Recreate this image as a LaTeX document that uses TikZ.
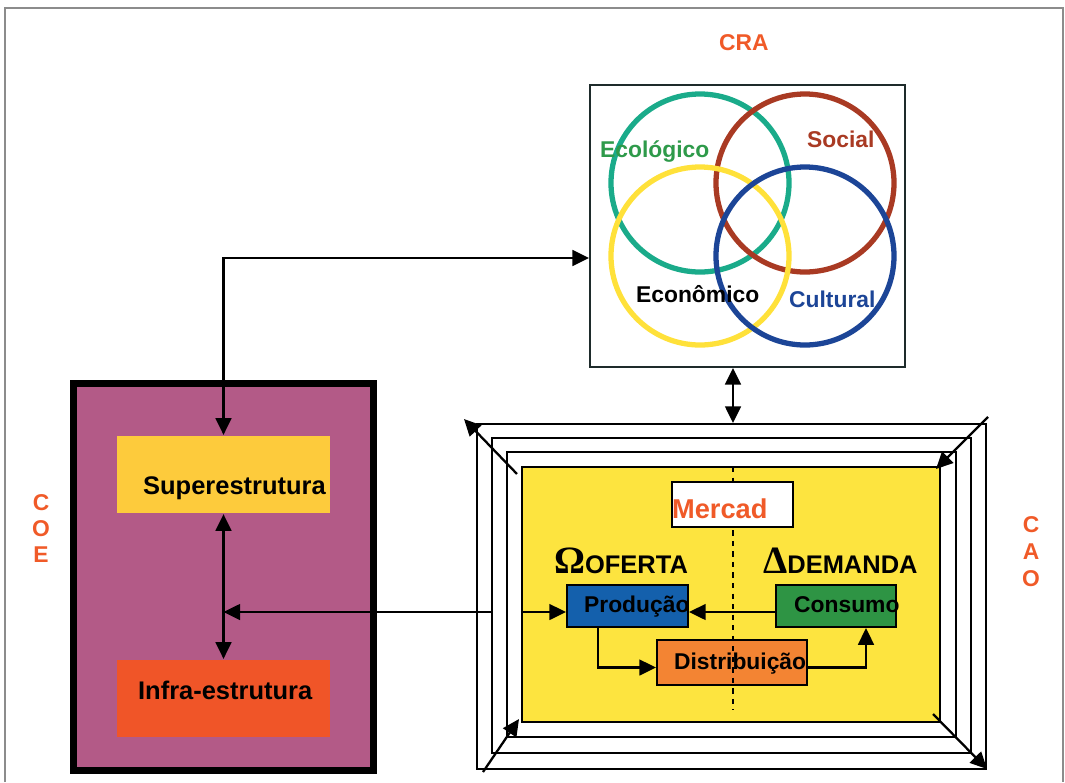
\documentclass[tikz,border=0pt]{standalone}
\usepackage{fontspec}
\setmainfont{Liberation Sans}
\newfontfamily\symbfont{Liberation Serif}
\usetikzlibrary{arrows.meta}

\definecolor{labelred}{HTML}{F05A28}
\definecolor{framegray}{HTML}{8C8C8C}
\definecolor{crablack}{HTML}{1E2B2B}
\definecolor{coepurple}{HTML}{B35A87}
\definecolor{superyellow}{HTML}{FDCB3C}
\definecolor{infraorange}{HTML}{F05528}
\definecolor{caoyellow}{HTML}{FDE43F}
\definecolor{prodblue}{HTML}{1460AC}
\definecolor{consgreen}{HTML}{2E9444}
\definecolor{distorange}{HTML}{F38433}
\definecolor{ecogreen}{HTML}{1AAB8A}
\definecolor{ecotext}{HTML}{2E9A4A}
\definecolor{socred}{HTML}{A93A23}
\definecolor{econyellow}{HTML}{FFE13A}
\definecolor{cultblue}{HTML}{1C4597}

\tikzset{
  box/.style={draw=black,line width=1.2pt,inner sep=0pt},
  txt/.style={inner sep=0pt,font=\bfseries\fontsize{13}{15}\selectfont},
  bigtxt/.style={inner sep=0pt,font=\bfseries\fontsize{14.5}{17}\selectfont},
  ring/.style={line width=3pt},
}

\begin{document}
\begin{tikzpicture}[x=0.02cm,y=-0.02cm,line width=1.3pt,>={Triangle[length=9.5pt,width=9pt]}]
\useasboundingbox (0,0) rectangle (1065,782);
% page frame
\draw[framegray,line width=1pt] (5,782) -- (5,8) -- (1063,8) -- (1063,782);

% COE
\node[draw=black,line width=4pt,fill=coepurple,minimum width=6cm,minimum height=7.74cm,inner sep=0pt] (coe) at (223.5,577) {};
\node[fill=superyellow,minimum width=4.26cm,minimum height=1.54cm,inner sep=0pt] (super) at (223.5,474.5) {};
\node[bigtxt,anchor=base west] (supertext) at (142,494) {Superestrutura};
\node[fill=infraorange,minimum width=4.26cm,minimum height=1.54cm,inner sep=0pt] (infra) at (223.5,698.5) {};
\node[bigtxt,anchor=base west] (infratext) at (137,699) {Infra-estrutura};
\foreach \l [count=\i] in {C,O,E}
  \node[txt,labelred,anchor=base] (coe\i) at (41,484+26*\i) {\l};

% CRA
\node[txt,labelred,anchor=base west] (cratext) at (718,50) {CRA};
\node[draw=crablack,line width=1.1pt,minimum width=6.3cm,minimum height=5.64cm,inner sep=0pt] (cra) at (747.5,226) {};
\draw[ring,ecogreen] (700,183) circle[radius=89];
\draw[ring,socred] (805,183) circle[radius=89];
\draw[ring,econyellow] (700,256) circle[radius=89];
\draw[ring,cultblue] (805,256) circle[radius=89];
\node[txt,ecotext,anchor=base west] (eco) at (599,157) {Ecológico};
\node[txt,socred,anchor=base west] (soc) at (806,147) {Social};
\node[txt,anchor=base west] (econ) at (635,302) {Econômico};
\node[txt,cultblue,anchor=base west] (cult) at (788,307) {Cultural};

% CAO
\node[box,minimum width=10.18cm,minimum height=6.9cm] (cao) at (731.5,596.5) {};
\foreach \i in {1,2}
  \draw[line width=1.2pt] (477+15*\i,424+14*\i) rectangle (986-15*\i,769-16*\i);
\node[box,fill=caoyellow,minimum width=8.36cm,minimum height=5.1cm] (market) at (731,594.5) {};
\foreach \l [count=\i] in {C,A,O}
  \node[txt,labelred,anchor=base] (cao\i) at (1031,505+27*\i) {\l};

\node[box,fill=distorange,minimum width=3cm,minimum height=0.9cm] (dist) at (732,662.5) {};
\coordinate (dashtop) at (733,467);
\coordinate (dashbot) at (733,710);
\draw[dashed,line width=0.8pt] (dashtop) -- (dashbot);
\node[box,fill=white,minimum width=2.42cm,minimum height=0.9cm] (mercad) at (732.5,504.5) {};
\node[anchor=base west,inner sep=0pt,labelred,font=\bfseries\fontsize{15.5}{18}\selectfont] (mercadtext) at (671,518) {Mercad};

\node[bigtxt,anchor=base west] (oferta) at (553,573) {{\symbfont\fontsize{22}{24}\selectfont Ω}OFERTA};
\node[bigtxt,anchor=base west] (demanda) at (762,573) {{\symbfont\fontsize{22}{24}\selectfont Δ}DEMANDA};

\node[box,fill=prodblue,minimum width=2.42cm,minimum height=0.84cm] (prod) at (627.5,606) {};
\node[box,fill=consgreen,minimum width=2.4cm,minimum height=0.84cm] (cons) at (836,606) {};
\node[txt,anchor=base west] (prodtext) at (583,612) {Produção};
\node[txt,anchor=base west] (constext) at (793,612) {Consumo};
\node[txt,anchor=base west] (disttext) at (673,669) {Distribuição};

% connectors inside the market
\draw[->] ([yshift=-0.12cm]cons.west) -- ([yshift=-0.12cm]prod.east);
\draw[->] ([yshift=-0.12cm]prod.west -| market.west) -- ([yshift=-0.12cm]prod.west);
\draw[->] ([xshift=-0.59cm]prod.south) |- ([yshift=-0.1cm]dist.west);
\draw[->] ([yshift=-0.1cm]dist.east) -| ([xshift=0.6cm]cons.south);

% connectors between the blocks
\coordinate (bend) at (222,258);
\coordinate (caoleft) at (492,612);
\draw[<->] (super.south) -- (infra.north);
\draw[<->] (super.north) -- (super.north |- bend) -- (bend -| cra.west);
\draw[->] (caoleft) -- (caoleft -| super.south);
\draw[<->] (cra.south -| dashtop) -- (cao.north -| dashtop);

% corner arrows
\coordinate (tl) at (464,419);
\coordinate (tr) at (988,417);
\coordinate (bl) at (483,772);
\coordinate (br) at (987,769);
\draw[->] ([shift={(-4,8)}]market.north west) -- (tl);
\draw[->] (tr) -- ([shift={(-5,3)}]market.north east);
\draw[->] (bl) -- ([shift={(-2,-4)}]market.south west);
\draw[->] ([shift={(-8,-9)}]market.south east) -- (br);
\end{tikzpicture}
\end{document}
